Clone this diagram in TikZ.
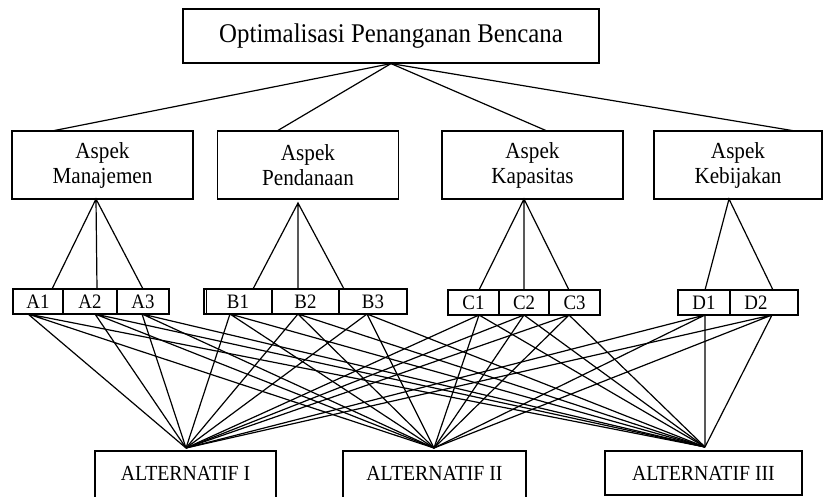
\documentclass[tikz,border=0pt]{standalone}
\usepackage{fontspec}
\setmainfont[FakeStretch=0.92]{Liberation Serif}
\usetikzlibrary{positioning}

\begin{document}
\begin{tikzpicture}[x=1pt, y=-1pt, line width=1.2pt,
    kotak/.style={draw, rectangle, inner sep=0pt, align=center},
    aspek/.style={kotak, minimum width=181pt, minimum height=68pt, font=\fontsize{23}{25}\selectfont},
    sub/.style={kotak, minimum height=25pt, font=\fontsize{20.5}{22}\selectfont},
    alt/.style={kotak, minimum height=44pt, font=\fontsize{21.5}{24}\selectfont},
    altbuka/.style={alt, minimum height=60pt, text height=15pt, text depth=17pt}]
	\useasboundingbox (0,0) rectangle (825,497);
	\clip (0,0) rectangle (825,497);

	% Tujuan
	\node[kotak, minimum width=416pt, minimum height=54pt, font=\fontsize{27}{30}\selectfont] (tujuan) at (391,36) {Optimalisasi Penanganan Bencana};

	% Kriteria
	\node[aspek] (manajemen) at (102.5,165) {Aspek\\Manajemen};
	\node[aspek] (pendanaan) at (308,165) {Aspek\\Pendanaan};
	\node[aspek] (kapasitas) at (532.5,165) {Aspek\\Kapasitas};
	\node[aspek, minimum width=168pt] (kebijakan) at (738,165) {Aspek\\Kebijakan};

	% Subkriteria
	\node[sub, minimum width=50pt] (a1) at (38,301.5) {A1};
	\node[sub, minimum width=54pt] (a2) at (90,301.5) {A2};
	\node[sub, minimum width=52pt] (a3) at (143,301.5) {A3};
	\node[sub, minimum width=68pt] (b1) at (238,301.5) {B1};
	\node[sub, minimum width=67pt] (b2) at (305.5,301.5) {B2};
	\node[sub, minimum width=68pt] (b3) at (373,301.5) {B3};
	\node[sub, minimum width=51pt] (c1) at (473.5,302.5) {C1};
	\node[sub, minimum width=50pt] (c2) at (524,302.5) {C2};
	\node[sub, minimum width=51pt] (c3) at (574.5,302.5) {C3};
	\node[sub, minimum width=52pt] (d1) at (704,302.5) {D1};
	\node[sub, minimum width=68pt] (d2) at (764,302.5) {D2\hspace{16pt}};
	\draw ([xshift=3pt]b1.north west) -- ([xshift=3pt]b1.south west);

	% Alternatif
	\node[altbuka, minimum width=181pt] (alt1) at (185.5,481) {ALTERNATIF I};
	\node[altbuka, minimum width=183pt] (alt2) at (434.5,481) {ALTERNATIF II};
	\node[alt, minimum width=197pt] (alt3) at (703.5,473) {ALTERNATIF III};

	% titik sambung
	\coordinate (m1) at (96,199);  \coordinate (m2) at (298,203);
	\coordinate (m3) at (524,199); \coordinate (m4) at (729,199);
	\coordinate (a1a) at (52,289);  \coordinate (a2a) at (97,289);  \coordinate (a3a) at (143,289);
	\coordinate (b1a) at (253,289); \coordinate (b2a) at (298,289); \coordinate (b3a) at (344,289);
	\coordinate (c1a) at (479,290); \coordinate (c2a) at (524,290); \coordinate (c3a) at (569,290);
	\coordinate (d1a) at (705,290); \coordinate (d2a) at (773,290);
	\coordinate (a1b) at (28,314);  \coordinate (a2b) at (95,314);  \coordinate (a3b) at (142,314);
	\coordinate (b1b) at (230,314); \coordinate (b2b) at (298,314); \coordinate (b3b) at (367,314);
	\coordinate (c1b) at (479,315); \coordinate (c2b) at (524,315); \coordinate (c3b) at (569,315);
	\coordinate (d1b) at (705,315); \coordinate (d2b) at (772,315);
	\coordinate (p1) at (186,448); \coordinate (p2) at (434,448); \coordinate (p3) at (705,447);

	% tujuan ke kriteria
	\draw (tujuan.south) -- (52,131);
	\draw (tujuan.south) -- (277,131);
	\draw (tujuan.south) -- (547,131);
	\draw (tujuan.south) -- (795,131);

	% kriteria ke subkriteria
	\draw (a1a) -- (m1) -- (a3a) (m1) -- (a2a);
	\draw (b1a) -- (m2) -- (b3a) (m2) -- (b2a);
	\draw (c1a) -- (m3) -- (c3a) (m3) -- (c2a);
	\draw (d1a) -- (m4) -- (d2a);

	% subkriteria ke alternatif
	\foreach \s in {a1b,a2b,a3b,b1b,b2b,b3b,c1b,c2b,c3b,d1b,d2b}
		\draw (p1) -- (\s) -- (p3) (\s) -- (p2);
\end{tikzpicture}
\end{document}
